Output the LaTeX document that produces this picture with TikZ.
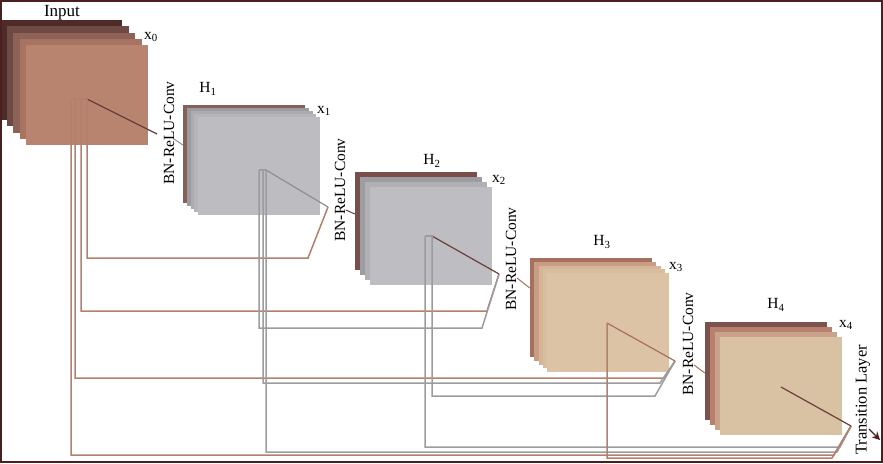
\documentclass[tikz,border=0pt]{standalone}
\usepackage{fontspec}
\setmainfont{Liberation Serif}
\usetikzlibrary{arrows.meta, positioning}

% --- stack colours ---
\definecolor{inA}{HTML}{4E2B28}
\definecolor{inB}{HTML}{6F4944}
\definecolor{inC}{HTML}{8E6257}
\definecolor{inD}{HTML}{A87462}
\definecolor{inE}{HTML}{B8846F}
\definecolor{gyA}{HTML}{84605A}
\definecolor{gyB}{HTML}{9C9CA0}
\definecolor{gyC}{HTML}{ACACB0}
\definecolor{gyD}{HTML}{B6B6BA}
\definecolor{gyE}{HTML}{BDBDC1}
\definecolor{gzA}{HTML}{7A4F49}
\definecolor{gzB}{HTML}{9D9DA1}
\definecolor{gzC}{HTML}{B1B1B5}
\definecolor{gzD}{HTML}{BEBEC2}
\definecolor{tnA}{HTML}{A67060}
\definecolor{tnB}{HTML}{C79D84}
\definecolor{tnC}{HTML}{D5B596}
\definecolor{tnD}{HTML}{D9BD9F}
\definecolor{tnE}{HTML}{DCC3A5}
\definecolor{tkA}{HTML}{7B524C}
\definecolor{tkB}{HTML}{B8806E}
\definecolor{tkC}{HTML}{C9A289}
\definecolor{tkD}{HTML}{D9C2A3}
% --- line colours ---
\definecolor{framebr}{HTML}{4A1F1E}
\definecolor{linkbr}{HTML}{B47F6B}
\definecolor{linkgr}{HTML}{9C9CA0}
\definecolor{diagbr}{HTML}{6A3F38}
\definecolor{diaggr}{HTML}{8E8E94}

\begin{document}
\begin{tikzpicture}[
  x=1pt, y=-1pt, >=Stealth,
  % --- feature maps ---
  fmap/.style={minimum width=122pt, minimum height=98pt, inner sep=0pt, draw=none},
  % --- labels ---
  lbl/.style={font=\fontsize{15.5}{18}\selectfont, inner sep=0pt},
  convlbl/.style={lbl, rotate=90},
  % --- connectors ---
  brlink/.style={draw=linkbr, line width=1.5pt},
  grlink/.style={draw=linkgr, line width=1.5pt},
  brdiag/.style={draw=diagbr, line width=1.2pt},
  grdiag/.style={draw=diaggr, line width=1.2pt},
  lead/.style={line width=1pt},
]

\useasboundingbox (0,0) rectangle (883,463);

% ===================== FEATURE MAP STACKS =====================

\foreach \i/\c in {0/inA,1/inB,2/inC,3/inD,4/inE}
  \node[fmap, minimum height=100pt, fill=\c] (x0l\i) at (61+6.5*\i, 70+6.25*\i) {};
\foreach \i/\c in {0/gyA,1/gyB,2/gyC,3/gyD,4/gyE}
  \node[fmap, fill=\c] (h1l\i) at (244+3.75*\i, 154+3*\i) {};
\foreach \i/\c in {0/gzA,1/gzB,2/gzC,3/gzD}
  \node[fmap, fill=\c] (h2l\i) at (416+5*\i, 221+5*\i) {};
\foreach \i/\c in {0/tnA,1/tnB,2/tnC,3/tnD,4/tnE}
  \node[fmap, minimum height=99pt, fill=\c] (h3l\i) at (591+4.25*\i, 307.5+3.75*\i) {};
\foreach \i/\c in {0/tkA,1/tkB,2/tkC,3/tkD}
  \node[fmap, fill=\c] (h4l\i) at (766+5*\i, 371+5*\i) {};

% ===================== JUNCTIONS AND INPUT POINTS =====================

\coordinate (j0a) at (71,99);
\coordinate (j0b) at (75,99);
\coordinate (j0c) at (81,99);
\coordinate (j0)  at (87,99);
\coordinate (j1a) at (259,170);
\coordinate (j1b) at (263,170);
\coordinate (j1)  at (266,170);
\coordinate (j2a) at (425,236);
\coordinate (j2)  at (432,236);
\coordinate (j3)  at (607,323);
\coordinate (j4)  at (781,387);

\coordinate (c1) at (157,134);
\coordinate (c2) at (328,207);
\coordinate (c3) at (499,274);
\coordinate (c4) at (675,361);
\coordinate (c5) at (851,426);

% ===================== DENSE CONNECTIONS =====================

% from x0
\draw[brlink] (j0a) -- (j0);
\draw[brdiag] (j0) -- (c1);
\draw[brlink] (j0)  |- ([shift={(-20,51)}]c2) -- (c2);
\draw[brlink] (j0c) |- ([shift={(-12,37)}]c3) -- (c3);
\draw[brlink] (j0b) |- ([shift={(-11,17)}]c4) -- (c4);
\draw[brlink] (j0a) |- ([shift={(-17,29)}]c5) -- (c5);

% from H1
\draw[grlink] (j1a) -- (j1);
\draw[grdiag] (j1) -- (c2);
\draw[grlink] (j1a) |- ([shift={(-17,54)}]c3) -- (c3);
\draw[grlink] (j1b) |- ([shift={(-15,22)}]c4) -- (c4);
\draw[grlink] (j1)  |- ([shift={(-14,26)}]c5) -- (c5);

% from H2
\draw[grlink] (j2a) -- (j2);
\draw[brdiag] (j2) -- (c3);
\draw[grlink] (j2)  |- ([shift={(-20,35)}]c4) -- (c4);
\draw[grlink] (j2a) |- ([shift={(-11,21)}]c5) -- (c5);

% from H3
\draw[brdiag, draw=tnA] (j3) -- (c4);
\draw[brlink] (j3) |- ([shift={(-19,32)}]c5) -- (c5);

% from H4
\draw[brdiag] (j4) -- (c5);

% ===================== LABELS =====================

\node[lbl, font=\fontsize{17}{20}\selectfont] (inp) at (62,13) {Input};
\node[lbl] (x0) at (151,37)  {x\textsubscript{0}};
\node[lbl] (h1) at (208,89)  {H\textsubscript{1}};
\node[lbl] (x1) at (324,111) {x\textsubscript{1}};
\node[lbl] (h2) at (432,161) {H\textsubscript{2}};
\node[lbl] (x2) at (499,180) {x\textsubscript{2}};
\node[lbl] (h3) at (602,242) {H\textsubscript{3}};
\node[lbl] (x3) at (676,267) {x\textsubscript{3}};
\node[lbl] (h4) at (776,305) {H\textsubscript{4}};
\node[lbl] (x4) at (846,325) {x\textsubscript{4}};

\node[convlbl] (bn1) at (169,133) {BN-ReLU-Conv};
\node[convlbl] (bn2) at (340,190) {BN-ReLU-Conv};
\node[convlbl] (bn3) at (511,259) {BN-ReLU-Conv};
\node[convlbl] (bn4) at (688,344) {BN-ReLU-Conv};
\node[convlbl, font=\fontsize{16.5}{19}\selectfont] (tl) at (863,400) {Transition Layer};

% leads from the conv labels to the next stack
\coordinate (k1) at (174,139);
\coordinate (k2) at (346,210);
\coordinate (k3) at (517,278);
\coordinate (k4) at (694,365);
\draw[lead, diaggr] (k1) -- (h1l0.west |- 0,145);
\draw[lead, diagbr] (k2) -- (h2l0.west |- 0,214);
\draw[lead, tnA] (k3) -- (h3l0.west |- 0,288);
\draw[lead, tnA] (k4) -- (h4l0.west |- 0,373);

% transition arrow
\coordinate (ta) at (869,429);
\coordinate (tb) at (880,440);
\draw[-{Stealth[length=8pt, width=8pt]}, framebr, line width=1.2pt] (ta) -- (tb);

% frame
\draw[framebr, line width=2pt] (1,1) rectangle (882,462);

\end{tikzpicture}
\end{document}
